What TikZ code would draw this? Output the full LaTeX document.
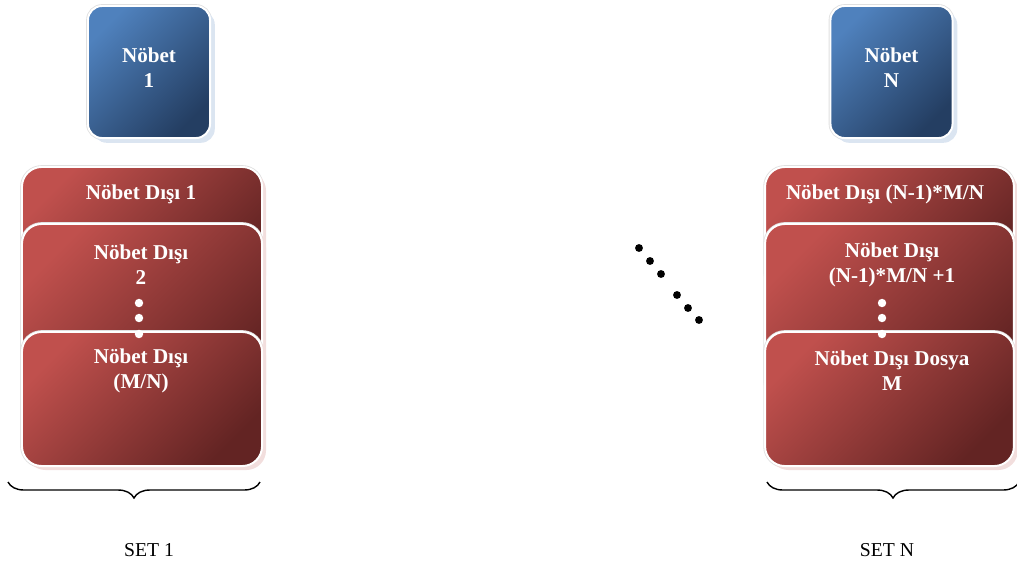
\documentclass[tikz,border=0pt]{standalone}
\usepackage{fontspec}
\setmainfont{Liberation Serif}
\usetikzlibrary{shadows,decorations.pathreplacing}

\definecolor{maviAcik}{RGB}{79,129,189}
\definecolor{maviKoyu}{RGB}{36,62,98}
\definecolor{maviGolge}{RGB}{219,229,241}
\definecolor{kirmiziAcik}{RGB}{192,80,77}
\definecolor{kirmiziKoyu}{RGB}{99,36,35}
\definecolor{kirmiziGolge}{RGB}{242,222,221}

\tikzset{
	kutu/.style={draw=white, line width=1.4pt, inner sep=0pt,
		preaction={draw=black!12, line width=2.6pt}},
	nobetkutu/.style={kutu, rounded corners=10pt, top color=maviAcik, bottom color=maviKoyu,
		shading angle=45, minimum width=3.05cm, minimum height=3.3cm,
		drop shadow={fill=maviGolge, opacity=1, shadow xshift=0.12cm, shadow yshift=-0.12cm}},
	disikutu/.style={kutu, rounded corners=14pt, top color=kirmiziAcik, bottom color=kirmiziKoyu,
		shading angle=45,
		drop shadow={fill=kirmiziGolge, opacity=1, shadow xshift=0.1cm, shadow yshift=-0.1cm}},
	yazi/.style={text=white, align=center, font=\bfseries\fontsize{15}{17.7}\selectfont},
	setyazi/.style={font=\fontsize{14}{16}\selectfont},
	parantez/.style={decorate, line width=1pt, decoration={brace, mirror, amplitude=0.4cm}}
}

\begin{document}
\begin{tikzpicture}[x=0.025cm, y=-0.025cm]
	\useasboundingbox (0,0) rectangle (1017,567);

	% nöbet kutuları
	\node[nobetkutu] (nb1) at (149,72) {};
	\node[yazi] (nb1y) at (149,67.5) {Nöbet\\1};
	\node[nobetkutu] (nbN) at (891.5,72) {};
	\node[yazi] (nbNy) at (891.5,67.5) {Nöbet\\N};

	% SET 1: üst üste nöbet dışı kutuları
	\node[disikutu, minimum width=6cm, minimum height=3.1cm] (sol1) at (142,229) {};
	\node[disikutu, minimum width=6cm, minimum height=4.4cm] (sol2) at (142,312) {};
	\node[disikutu, minimum width=6cm, minimum height=3.35cm] (sol3) at (142,399) {};
	\node[yazi] (sol1y) at (141,194) {Nöbet Dışı 1};
	\node[yazi] (sol2y) at (141,265) {Nöbet Dışı\\2};
	\node[yazi] (sol3y) at (141,370.5) {Nöbet Dışı\\(M/N)};

	% SET N
	\node[disikutu, minimum width=6.22cm, minimum height=3.1cm] (sag1) at (889.5,229) {};
	\node[disikutu, minimum width=6.22cm, minimum height=4.4cm] (sag2) at (889.5,312) {};
	\node[disikutu, minimum width=6.22cm, minimum height=3.35cm] (sag3) at (889.5,399) {};
	\node[yazi] (sag1y) at (885,194) {Nöbet Dışı (N-1)*M/N};
	\node[yazi] (sag2y) at (892,265) {Nöbet Dışı\\(N-1)*M/N +1};
	\node[yazi] (sag3y) at (892,370.5) {Nöbet Dışı Dosya\\M};

	% kutu içindeki beyaz noktalar
	\foreach \y in {303,318,334} {
		\fill[white] (139,\y) circle (3pt);
		\fill[white] (882,\y) circle (3pt);
	}

	% aradaki siyah noktalar
	\foreach \x/\y in {639/248, 650/261, 661/274, 677/295, 688/308, 699/320}
		\fill[black] (\x,\y) circle (2.8pt);

	% parantezler ve set adları
	\coordinate (p1a) at (8,482);
	\coordinate (p1b) at (260,482);
	\coordinate (pNa) at (767,482);
	\coordinate (pNb) at (1019,482);
	\draw[parantez] (p1a) -- (p1b);
	\draw[parantez] (pNa) -- (pNb);
	\node[setyazi] (set1) at (149,550) {SET 1};
	\node[setyazi] (setN) at (887,550) {SET N};
\end{tikzpicture}
\end{document}
